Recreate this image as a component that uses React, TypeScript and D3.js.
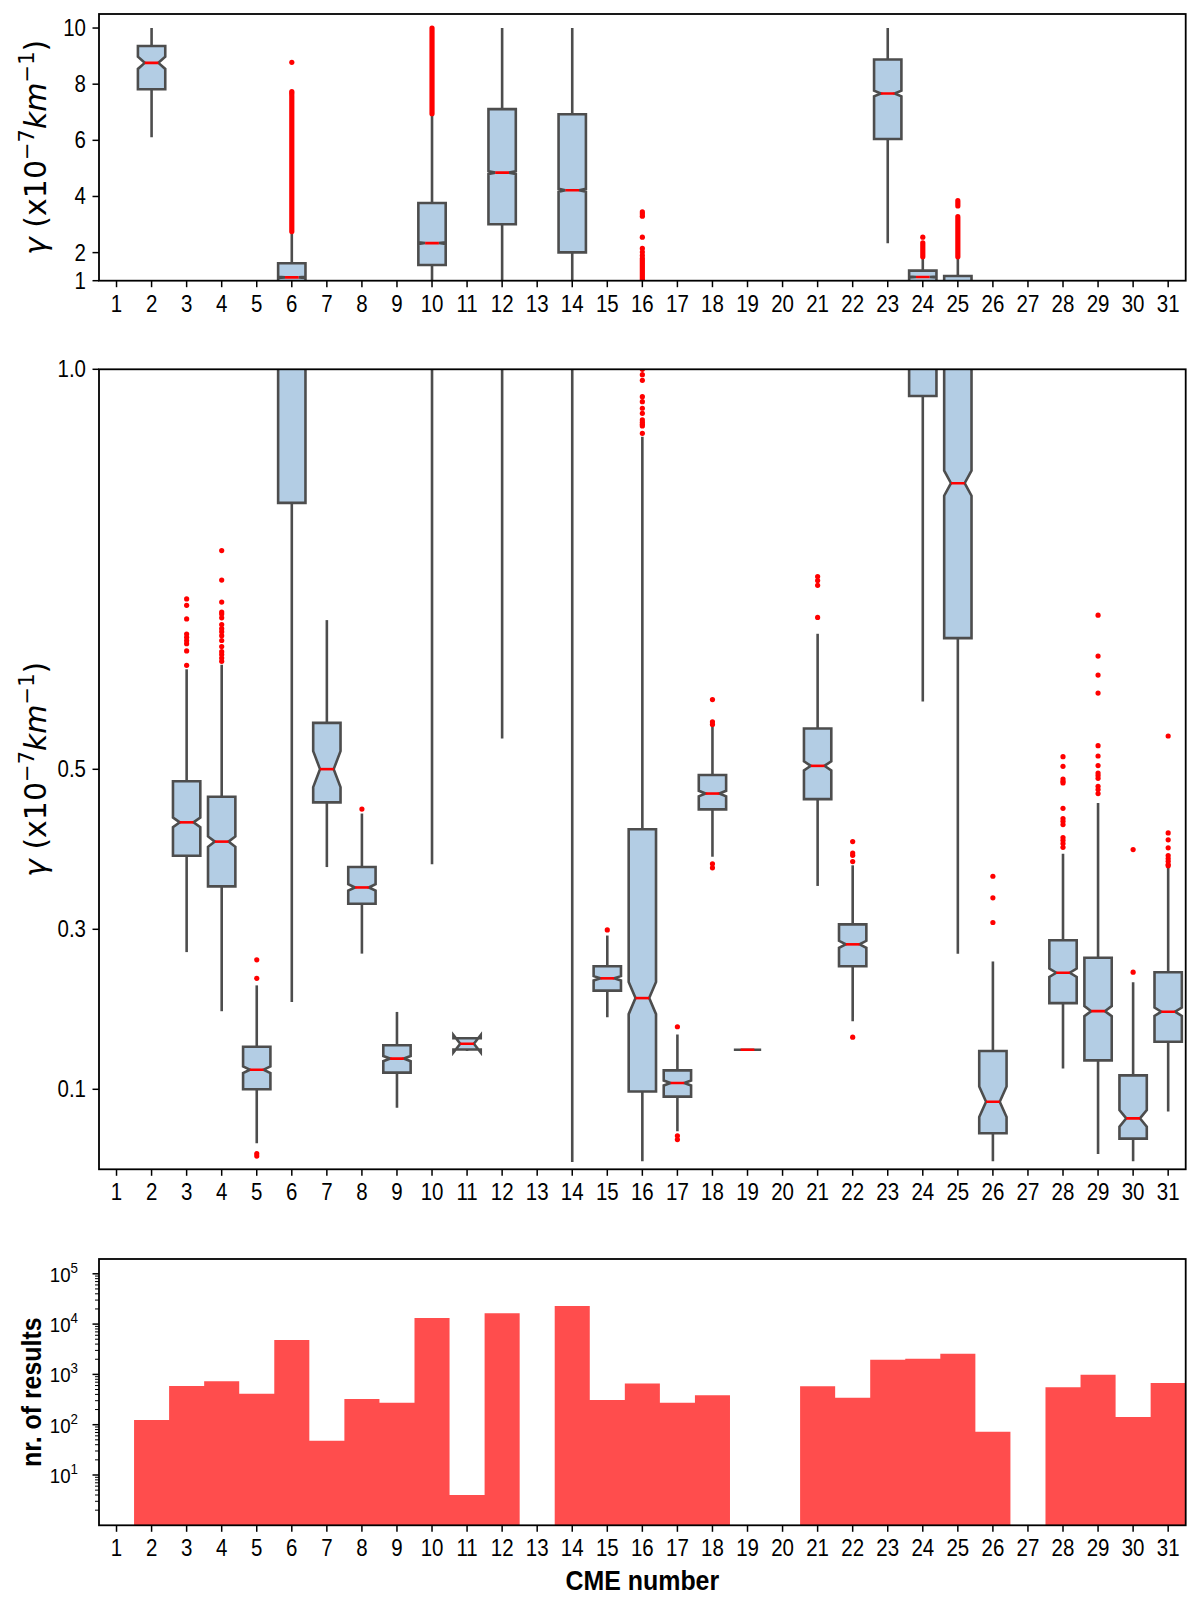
import * as d3 from 'd3';
import { useEffect, useRef } from 'react';

// CME categories and the number of results per CME (bottom histogram)
const cmeNumbers = [1, 2, 3, 4, 5, 6, 7, 8, 9, 10, 11, 12, 13, 14, 15, 16, 17, 18, 19, 20, 21, 22, 23, 24, 25, 26, 27, 28, 29, 30, 31];
const resultCounts = [null, 124, 589, 729, 414, 4830, 48, 324, 274, 13200, 4, 16400, null, 23000, 310, 660, 274, 384, 1, null, 580, 344, 1960, 2050, 2580, 72, null, 554, 986, 142, 675];

// box statistics of gamma (x10^-7 km^-1)
const whiskerLow = [null, 6.11, 0.2715, 0.1976, 0.0326, 0.209, 0.3778, 0.2696, 0.0769, 0.3814, 0.148, 0.5386, null, 0.009, 0.1902, 0.01, 0.0475, 0.3907, 0.1495, null, 0.3542, 0.1851, 2.33, 0.5849, 0.2694, 0.01, null, 0.1261, 0.0191, 0.01, 0.0721];
const quartile1 = [null, 7.82, 0.392, 0.3537, 0.1, 0.833, 0.4586, 0.332, 0.1209, 1.56, 0.1498, 3.01, null, 2.01, 0.2234, 0.0973, 0.0908, 0.4499, 0.1495, null, 0.4627, 0.2539, 6.05, 0.9667, 0.664, 0.045, null, 0.2077, 0.1361, 0.0383, 0.1595];
const medians = [null, 8.76, 0.4337, 0.4096, 0.1245, 1.12, 0.5002, 0.3523, 0.1384, 2.34, 0.1569, 4.85, null, 4.22, 0.2387, 0.214, 0.1079, 0.4697, 0.1495, null, 0.5043, 0.2812, 7.67, 1.13, 0.8576, 0.0845, null, 0.2457, 0.1977, 0.0637, 0.197];
const quartile3 = [null, 9.36, 0.485, 0.4656, 0.1532, 1.62, 0.558, 0.3778, 0.1551, 3.77, 0.1638, 7.11, null, 6.93, 0.2539, 0.425, 0.1236, 0.4928, 0.1495, null, 0.551, 0.3061, 8.88, 1.36, 1.17, 0.1478, null, 0.2864, 0.2644, 0.1174, 0.2464];
const whiskerHigh = [null, 10.0, 0.625, 0.6307, 0.2299, 2.69, 0.6865, 0.4447, 0.1967, 6.9, 0.1655, 10.0, null, 10.0, 0.2922, 0.9158, 0.1685, 0.5534, 0.1495, null, 0.6694, 0.38, 10.0, 1.8, 1.82, 0.2598, null, 0.3943, 0.458, 0.2339, 0.3768];

// single outliers per CME
const outlierPoints: number[][] = [
  [],
  [],
  [0.713, 0.705, 0.688, 0.669, 0.665, 0.661, 0.657, 0.648, 0.63],
  [0.7734, 0.7365, 0.709, 0.6965, 0.694, 0.6894, 0.681, 0.676, 0.672, 0.667, 0.661, 0.6535, 0.647, 0.6435, 0.639, 0.635],
  [0.2618, 0.2387, 0.0195, 0.0165],
  [7.68, 7.74, 8.78],
  [],
  [0.4503],
  [],
  [],
  [],
  [],
  [],
  [],
  [0.2992],
  [3.45, 3.38, 3.3, 2.55, 2.15, 2.02, 1.9, 0.9933, 0.9862, 0.9658, 0.9595, 0.9513, 0.945, 0.9367, 0.9338, 0.9313, 0.9292, 0.92],
  [0.1782, 0.0418, 0.0372],
  [0.5871, 0.5594, 0.5561, 0.3819, 0.3768],
  [],
  [],
  [0.741, 0.736, 0.73, 0.6898],
  [0.4096, 0.3953, 0.3925, 0.3847, 0.1652],
  [],
  [2.55],
  [],
  [0.3663, 0.3393, 0.3085],
  [],
  [0.5158, 0.5037, 0.4879, 0.485, 0.483, 0.4512, 0.4384, 0.435, 0.4309, 0.4146, 0.4113, 0.4071, 0.4025],
  [0.6927, 0.6415, 0.6178, 0.5953, 0.5295, 0.5166, 0.5046, 0.4954, 0.4921, 0.4887, 0.4787, 0.4746, 0.4696],
  [0.3997, 0.2464],
  [0.5416, 0.4205, 0.4118, 0.4018, 0.3922, 0.3884, 0.385, 0.3809, 0.3795]
];

// dense outlier clusters that merge into a continuous band [from, to]
const outlierRuns: [number, number][][] = [
  [], [], [], [], [],
  [[2.75, 7.6]],
  [], [], [],
  [[6.95, 10.0]],
  [], [], [], [], [],
  [[1.0, 1.8]],
  [], [], [], [], [], [], [],
  [[1.85, 2.35]],
  [[1.85, 3.28], [3.66, 3.85]],
  [], [], [], [], [], []
];

const topTicks = [1, 2, 4, 6, 8, 10];
const midTicks = [0.1, 0.3, 0.5, 1.0];
const countTicks = [1e1, 1e2, 1e3, 1e4, 1e5];

const boxFill = '#b3cde4';
const boxStroke = '#4d4d4d';
const red = '#ff0000';
const histFill = '#ff4d4d';
const textScale = 0.89;
const sans = '"Liberation Sans", Arial, sans-serif';

export default function App() {
  const ref = useRef<SVGSVGElement | null>(null);

  useEffect(() => {
    const svg = d3.select(ref.current);
    svg.selectAll('*').remove();

    const x = d3.scaleLinear().domain([0.5, 31.5]).range([99, 1185.7]);
    const bandW = x(2) - x(1);
    const boxW = bandW * 0.78;

    const panels = [
      { id: 'top', y: d3.scaleLinear().domain([1, 10.5]).range([280.7, 14]), ticks: topTicks, fmt: (d: number) => String(d) },
      { id: 'mid', y: d3.scaleLinear().domain([0, 1]).range([1169.3, 369.3]), ticks: midTicks, fmt: d3.format('.1f') }
    ];
    const yCount = d3.scaleLog().domain([1, Math.pow(10, 5.294)]).range([1525.3, 1259]);

    const text = (g: any, tx: number, ty: number, str: string, size: number, anchor: string, weight = 'normal') =>
      g
        .append('text')
        .attr('transform', `translate(${tx},${ty}) scale(${textScale},1)`)
        .attr('text-anchor', anchor)
        .attr('font-family', sans)
        .attr('font-size', size)
        .attr('font-weight', weight)
        .attr('fill', '#000')
        .text(str);

    const xAxis = (g: any, bottom: number) => {
      cmeNumbers.forEach((c) => {
        g.append('line').attr('x1', x(c)).attr('x2', x(c)).attr('y1', bottom).attr('y2', bottom + 6.5).attr('stroke', '#000').attr('stroke-width', 1.5);
        text(g, x(c), bottom + 31, String(c), 23, 'middle');
      });
    };

    const frame = (g: any, top: number, bottom: number) => {
      g.append('rect')
        .attr('x', x(0.5))
        .attr('y', top)
        .attr('width', x(31.5) - x(0.5))
        .attr('height', bottom - top)
        .attr('fill', 'none')
        .attr('stroke', '#000')
        .attr('stroke-width', 1.8);
    };

    const gammaLabel = (g: any, cx: number, cy: number) => {
      const t = g
        .append('text')
        .attr('transform', `translate(${cx},${cy}) rotate(-90)`)
        .attr('text-anchor', 'middle')
        .attr('font-family', '"DejaVu Sans", sans-serif')
        .attr('font-size', 30)
        .attr('fill', '#000');
      t.append('tspan').attr('font-style', 'italic').text('γ');
      t.append('tspan').text(' (x10');
      t.append('tspan').attr('font-size', 21).attr('dy', -12).text('−7');
      t.append('tspan').attr('dy', 12).attr('font-style', 'italic').text('km');
      t.append('tspan').attr('font-size', 21).attr('dy', -12).text('−1');
      t.append('tspan').attr('dy', 12).text(')');
    };

    const line = d3.line<[number, number]>();

    panels.forEach((p) => {
      const [y0, y1] = p.y.range();
      const g = svg.append('g');
      const clipId = `clip-${p.id}`;
      g.append('clipPath').attr('id', clipId).append('rect').attr('x', x(0.5)).attr('y', y1).attr('width', x(31.5) - x(0.5)).attr('height', y0 - y1);
      const plot = g.append('g').attr('clip-path', `url(#${clipId})`);

      cmeNumbers.forEach((c, i) => {
        const lo = whiskerLow[i];
        const q1 = quartile1[i];
        const med = medians[i];
        const q3 = quartile3[i];
        const hi = whiskerHigh[i];
        if (lo == null || q1 == null || med == null || q3 == null || hi == null) return;
        const n = resultCounts[i] ?? 1;
        const notch = (1.57 * (q3 - q1)) / Math.sqrt(n);
        const cx = x(c);
        const L = cx - boxW / 2;
        const R = cx + boxW / 2;
        const nL = cx - boxW / 4;
        const nR = cx + boxW / 4;
        const y = p.y;

        plot.append('line').attr('x1', cx).attr('x2', cx).attr('y1', y(q1)).attr('y2', y(lo)).attr('stroke', boxStroke).attr('stroke-width', 2.6);
        plot.append('line').attr('x1', cx).attr('x2', cx).attr('y1', y(q3)).attr('y2', y(hi)).attr('stroke', boxStroke).attr('stroke-width', 2.6);

        const pts: [number, number][] = [
          [L, y(q1)], [R, y(q1)], [R, y(med - notch)], [nR, y(med)], [R, y(med + notch)], [R, y(q3)],
          [L, y(q3)], [L, y(med + notch)], [nL, y(med)], [L, y(med - notch)], [L, y(q1)]
        ];
        plot.append('path').attr('d', (line(pts) ?? '') + 'Z').attr('fill', boxFill).attr('stroke', boxStroke).attr('stroke-width', 2.6).attr('stroke-linejoin', 'miter');
        plot.append('line').attr('x1', nL).attr('x2', nR).attr('y1', y(med)).attr('y2', y(med)).attr('stroke', red).attr('stroke-width', 2.6);

        outlierRuns[i].forEach(([a, b]) => {
          plot.append('line').attr('x1', cx).attr('x2', cx).attr('y1', y(a)).attr('y2', y(b)).attr('stroke', red).attr('stroke-width', 5.2).attr('stroke-linecap', 'round');
        });
        outlierPoints[i].forEach((v) => {
          plot.append('circle').attr('cx', cx).attr('cy', y(v)).attr('r', 2.6).attr('fill', red);
        });
      });

      p.ticks.forEach((t) => {
        g.append('line').attr('x1', 99).attr('x2', 92.5).attr('y1', p.y(t)).attr('y2', p.y(t)).attr('stroke', '#000').attr('stroke-width', 1.5);
        text(g, 86, p.y(t) + 8, p.fmt(t), 23, 'end');
      });
      xAxis(g, y0);
      frame(g, y1, y0);
      gammaLabel(g, 46, (y0 + y1) / 2);
    });

    // histogram of the number of results, drawn as one stepped area
    const gb = svg.append('g');
    const steps: [number, number][] = [];
    cmeNumbers.forEach((c, i) => {
      const n = resultCounts[i] ?? 1;
      steps.push([x(c - 0.5), yCount(Math.max(n, 1))]);
      steps.push([x(c + 0.5), yCount(Math.max(n, 1))]);
    });
    const area = d3
      .area<[number, number]>()
      .x((d) => d[0])
      .y0(yCount(1))
      .y1((d) => d[1]);
    gb.append('path').attr('d', area(steps) ?? '').attr('fill', histFill);

    const [cb0] = yCount.range();
    countTicks.forEach((t) => {
      gb.append('line').attr('x1', 99).attr('x2', 92.5).attr('y1', yCount(t)).attr('y2', yCount(t)).attr('stroke', '#000').attr('stroke-width', 1.5);
      const lab = gb
        .append('text')
        .attr('transform', `translate(78,${yCount(t) + 8}) scale(${textScale},1)`)
        .attr('text-anchor', 'end')
        .attr('font-family', sans)
        .attr('font-size', 21)
        .attr('fill', '#000');
      lab.append('tspan').text('10');
      lab.append('tspan').attr('font-size', 15).attr('dy', -9).text(String(Math.round(Math.log10(t))));
    });
    d3.range(0, 6).forEach((k) => {
      d3.range(2, 10).forEach((m) => {
        const v = m * Math.pow(10, k);
        if (v > yCount.domain()[1]) return;
        gb.append('line').attr('x1', 99).attr('x2', 95).attr('y1', yCount(v)).attr('y2', yCount(v)).attr('stroke', '#000').attr('stroke-width', 1);
      });
    });
    xAxis(gb, cb0);
    frame(gb, yCount.range()[1], cb0);

    gb.append('text')
      .attr('transform', `translate(41,${(1259 + 1525.3) / 2}) rotate(-90) scale(${textScale},1)`)
      .attr('text-anchor', 'middle')
      .attr('font-family', sans)
      .attr('font-size', 28)
      .attr('font-weight', 'bold')
      .text('nr. of results');
    text(gb, x(16), 1590, 'CME number', 28, 'middle', 'bold');
  }, []);

  return (
    <svg
      ref={ref}
      width={1200}
      height={1611}
      viewBox="0 0 1200 1611"
      style={{ position: 'absolute', left: 0, top: 0, background: '#fff' }}
      role="img"
      aria-label="CME gamma box plots and result counts"
    />
  );
}
